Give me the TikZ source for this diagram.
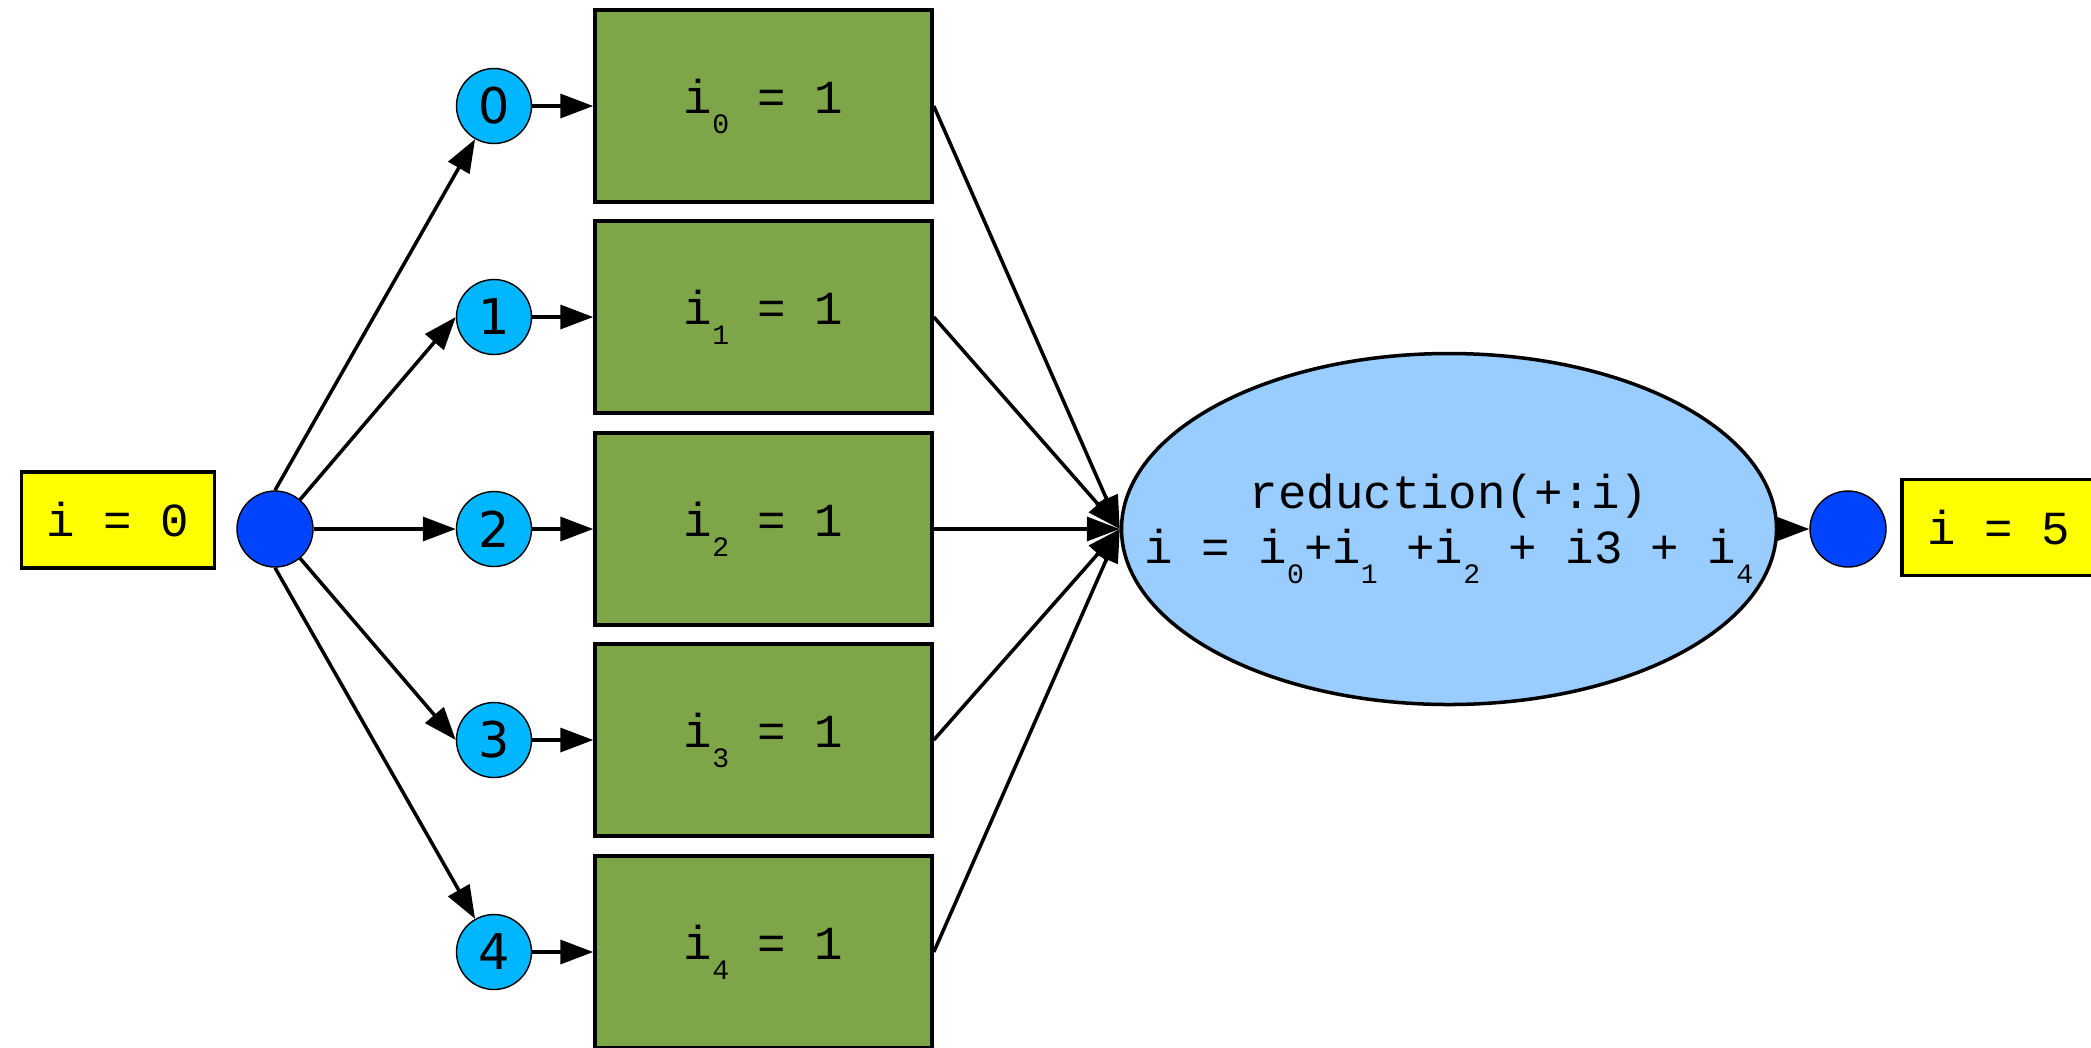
\documentclass[tikz,border=0pt]{standalone}
\usepackage{fontspec}
\setmonofont{Liberation Mono}
\setsansfont{DejaVu Sans}
\usepackage{tikz}
\usetikzlibrary{arrows.meta,shapes.geometric}

\definecolor{hiyellow}{RGB}{255,255,0}
\definecolor{dotblue}{RGB}{0,68,255}
\definecolor{idxblue}{RGB}{0,183,255}
\definecolor{taskgreen}{RGB}{126,166,72}
\definecolor{redblue}{RGB}{153,204,255}
\newcommand{\isub}[1]{\raisebox{-5.7pt}{\fontsize{8}{8}\selectfont #1}}

\begin{document}
\begin{tikzpicture}[every node/.style={draw, font=\ttfamily\fontsize{13.5}{15.6}\selectfont},
    val/.style={rectangle, fill=hiyellow, line width=1.1pt, minimum width=1.93cm, minimum height=0.96cm},
    dot/.style={circle, fill=dotblue, line width=0.4pt, minimum size=0.76cm, inner sep=0pt},
    idx/.style={circle, fill=idxblue, line width=0.4pt, minimum size=0.75cm, inner sep=0pt, font=\sffamily\fontsize{14}{16}\selectfont},
    task/.style={rectangle, fill=taskgreen, line width=1pt, minimum width=3.37cm, minimum height=1.92cm},
    reduce/.style={ellipse, fill=redblue, line width=1pt, minimum width=6.55cm, minimum height=3.51cm, align=center, inner xsep=-1.2cm, inner ysep=0pt},
    flow/.style={-{Triangle[length=0.33cm,width=0.24cm]}, line width=1pt}]
    \useasboundingbox (0,0) rectangle (20.91,-10.47);
    \clip (0,0) rectangle (20.91,-10.47);

    \node[val] (start) at (1.18,-5.20) {i = 0};
    \node[dot] (src) at (2.75,-5.29) {};
    \node[idx] (c0) at (4.94,-1.06) {0};
    \node[idx] (c1) at (4.94,-3.17) {1};
    \node[idx] (c2) at (4.94,-5.29) {2};
    \node[idx] (c3) at (4.94,-7.40) {3};
    \node[idx] (c4) at (4.94,-9.52) {4};
    \node[task] (b0) at (7.635,-1.06) {i\isub{0} = 1};
    \node[task] (b1) at (7.635,-3.17) {i\isub{1} = 1};
    \node[task] (b2) at (7.635,-5.29) {i\isub{2} = 1};
    \node[task] (b3) at (7.635,-7.40) {i\isub{3} = 1};
    \node[task] (b4) at (7.635,-9.52) {i\isub{4} = 1};
    \node[reduce] (red) at (14.49,-5.29) {reduction(+:i)\\i = i\isub{0}+i\isub{1} +i\isub{2} + i3 + i\isub{4}};
    \node[dot] (dst) at (18.48,-5.29) {};
    \node[val] (result) at (19.985,-5.275) {i = 5};

    \draw[flow] (src.north) -- (c0);
    \draw[flow] (src) -- (c1.west);
    \draw[flow] (src) -- (c2);
    \draw[flow] (src) -- (c3.west);
    \draw[flow] (src.south) -- (c4);
    \draw[flow] (c0) -- (b0);
    \draw[flow] (c1) -- (b1);
    \draw[flow] (c2) -- (b2);
    \draw[flow] (c3) -- (b3);
    \draw[flow] (c4) -- (b4);
    \draw[flow] (b0.east) -- (red.west);
    \draw[flow] (b1.east) -- (red.west);
    \draw[flow] (b2.east) -- (red.west);
    \draw[flow] (b3.east) -- (red.west);
    \draw[flow] (b4.east) -- (red.west);
    \draw[flow] (red.east) -- (dst);
\end{tikzpicture}
\end{document}
